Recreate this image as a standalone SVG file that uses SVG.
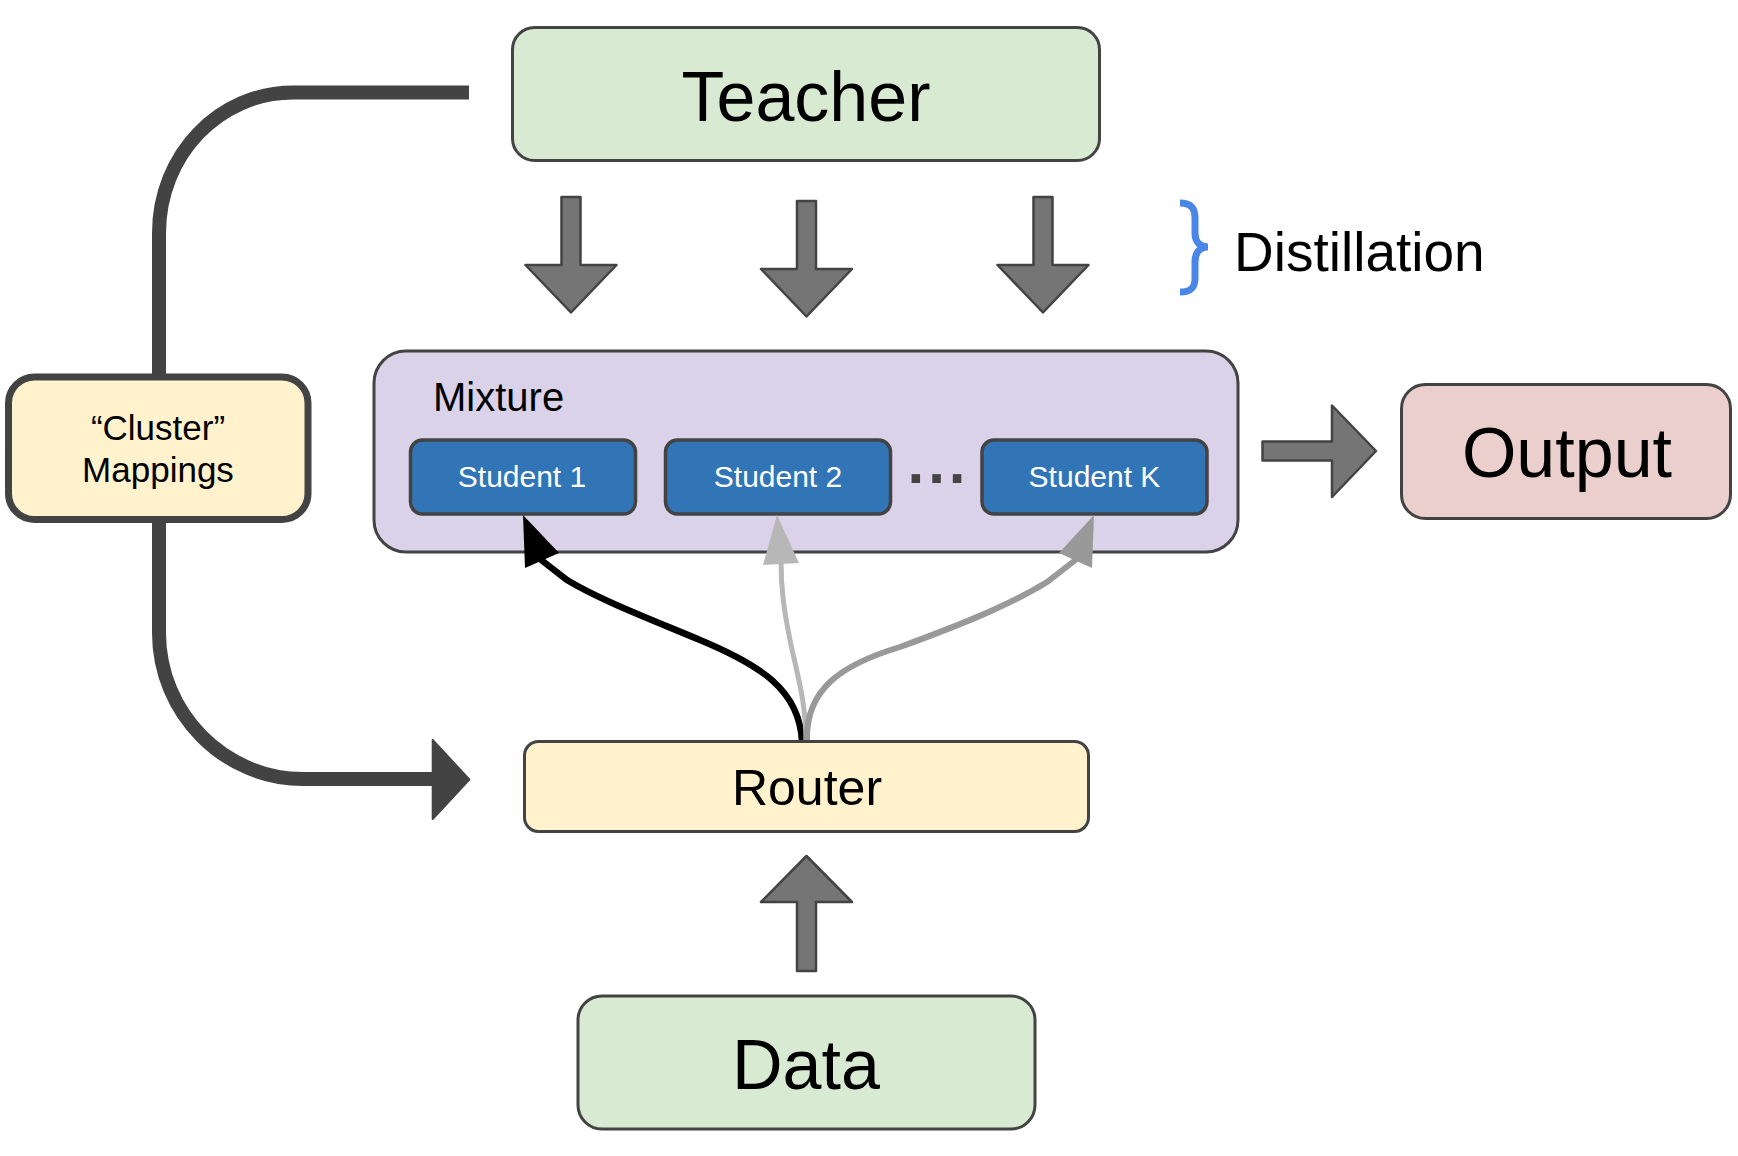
<svg xmlns="http://www.w3.org/2000/svg" width="1738" height="1156" viewBox="0 0 1738 1156">
<style>
text{font-family:"Liberation Sans",Arial,sans-serif;fill:#000}
.box{stroke:#434343;stroke-width:3}
.green{fill:#d9ead3}
.yellow{fill:#fff2cc}
.student{fill:#3275b7;stroke:#434343;stroke-width:3.5}
.st{fill:#fff;font-size:30px;text-anchor:middle}
.bigarrow{fill:#757575;stroke:#434343;stroke-width:2.5;stroke-linejoin:round}
.thick{fill:none;stroke:#434343;stroke-width:14}
.c{text-anchor:middle}
text.dots{fill:#434343}
</style>
<rect width="1738" height="1156" fill="#fff"/>
<g id="teacher">
<rect class="box green" x="512.5" y="27.5" width="587" height="133" rx="22"/>
<text class="c" x="806" y="121" font-size="70">Teacher</text>
</g>
<g id="distillation">
<path d="M1180 203 C1191 203 1195 208 1195 218 L1195 233 C1195 242 1200 247 1208 247 C1200 247 1195 252 1195 262 L1195 278 C1195 288 1191 292 1180 292" fill="none" stroke="#4a86e8" stroke-width="7"/>
<text x="1234" y="271" font-size="55">Distillation</text>
</g>
<g id="mixture">
<rect class="box" fill="#d9d2e9" x="374" y="351" width="864" height="201" rx="32"/>
<text x="433" y="411" font-size="40">Mixture</text>
<text class="dots" x="938.5" y="483" font-size="60" font-weight="bold" text-anchor="middle" letter-spacing="4">...</text>
</g>
<g id="student1">
<rect class="student" x="410.5" y="440" width="225" height="74" rx="12"/>
<text class="st" x="522" y="487">Student 1</text>
</g>
<g id="student2">
<rect class="student" x="665.5" y="440" width="225" height="74" rx="12"/>
<text class="st" x="778" y="487">Student 2</text>
</g>
<g id="studentK">
<rect class="student" x="982" y="440" width="225" height="74" rx="12"/>
<text class="st" x="1094.5" y="487">Student K</text>
</g>
<g id="output">
<rect class="box" fill="#ebcfcd" x="1401.5" y="384.5" width="329" height="134" rx="24"/>
<text class="c" x="1567" y="477" font-size="70">Output</text>
</g>
<g id="cluster">
<rect class="yellow" stroke="#434343" stroke-width="7" x="8.5" y="377" width="299.5" height="142.5" rx="26"/>
<text class="c" x="158" y="439.5" font-size="35">“Cluster”</text>
<text class="c" x="158" y="482" font-size="35">Mappings</text>
</g>
<g id="data">
<rect class="box green" x="578" y="996" width="457" height="133" rx="24"/>
<text class="c" x="806" y="1088.5" font-size="70">Data</text>
</g>
<g id="connectors">
<polygon class="bigarrow" points="561.5,197 580.5,197 580.5,265 616.5,265 571,312.5 525.5,265 561.5,265"/>
<polygon class="bigarrow" points="797,201 816,201 816,269 852,269 806.5,316.5 761,269 797,269"/>
<polygon class="bigarrow" points="1033.5,197 1052.5,197 1052.5,265 1088.5,265 1043,312.5 997.5,265 1033.5,265"/>
<polygon class="bigarrow" points="1262.5,441.5 1332,441.5 1332,405.5 1376,451 1332,497 1332,460.5 1262.5,460.5"/>
<polygon class="bigarrow" points="797,971 816,971 816,902 852,902 806.5,856 761,902 797,902"/>
<path class="thick" d="M469 92.5 L293 92.5 C219 92.5 159 155 159 233 L159 376"/>
<path class="thick" d="M159 520 L159 633 C159 713 224 779 303 779 L436 779"/>
<polygon points="432.7,740 469.3,779.5 432.7,819" fill="#434343" stroke="#434343" stroke-width="2" stroke-linejoin="round"/>
<path d="M802 742 C800 690 760 665 700 640 C650 619 600 600 567 580 L540 559" fill="none" stroke="#000" stroke-width="6.5"/>
<polygon points="523,515 525,568 559,553" fill="#000"/>
<path d="M806 742 C806 700 796 670 790 640 C784 610 781 590 781 560" fill="none" stroke="#b7b7b7" stroke-width="5"/>
<polygon points="777,515 763,565 799,563" fill="#b7b7b7"/>
<path d="M807 742 C805 690 840 665 900 647 C960 625 1010 605 1047 582 L1078 558" fill="none" stroke="#999999" stroke-width="6"/>
<polygon points="1094,515 1059,553 1092,568" fill="#999999"/>
</g>
<g id="router">
<rect class="box yellow" x="524.5" y="741.5" width="564" height="90" rx="14"/>
<text class="c" x="807" y="805" font-size="50">Router</text>
</g>
</svg>
